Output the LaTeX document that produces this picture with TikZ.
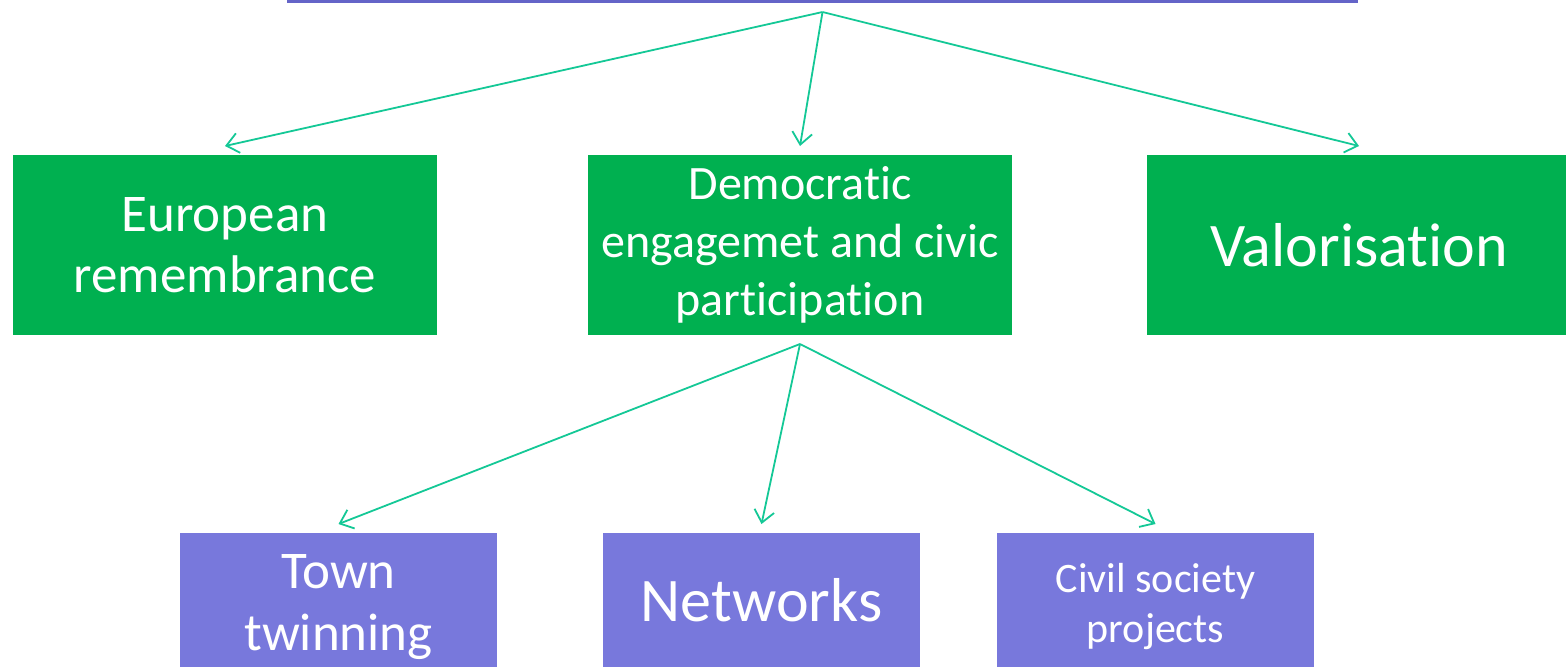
\documentclass[tikz,border=0pt]{standalone}
\usepackage{fontspec}
\setmainfont{Carlito}[Ligatures=NoCommon]
\usetikzlibrary{arrows.meta}
\definecolor{boxgreen}{RGB}{0,176,80}
\definecolor{boxpurple}{RGB}{120,120,220}
\definecolor{toppurple}{RGB}{100,100,200}
\definecolor{linkteal}{RGB}{20,200,150}

\begin{document}
\begin{tikzpicture}[x=0.5pt,y=-0.5pt,
    box/.style={rectangle,inner sep=0pt,outer sep=4.5pt,text=white,align=center},
    greenbox/.style={box,fill=boxgreen,minimum width=212pt,minimum height=90pt},
    purplebox/.style={box,fill=boxpurple,minimum width=158.5pt},
    link/.style={draw=linkteal,line width=0.9pt,-{Straight Barb[length=6pt,width=10pt]}}]
    \useasboundingbox (0,0) rectangle (1566,666);
    \clip (0,0) rectangle (1566,666);
    \node[box,fill=toppurple,minimum width=535.5pt,minimum height=33pt] (prog) at (822.5,-30) {};
    % second row
    \node[greenbox,font=\fontsize{26.5}{30.5}\selectfont] (eur) at (225,245) {European\\remembrance};
    \node[greenbox,font=\fontsize{24}{29}\selectfont] (dem) at (800,245) {Democratic\\engagemet and civic\\participation};
    \node[greenbox,font=\fontsize{31}{36}\selectfont] (val) at (1359,245) {Valorisation};
    % third row
    \node[purplebox,minimum height=74pt,font=\fontsize{26.5}{31}\selectfont] (town) at (338.5,607) {Town\\twinning};
    \node[purplebox,minimum height=67pt,font=\fontsize{31}{36}\selectfont] (net) at (761.5,600) {Networks};
    \node[purplebox,minimum height=73pt,font=\fontsize{21}{25}\selectfont] (civ) at (1155.5,606) {Civil society\\projects};
    \foreach \a/\b in {prog/eur,prog/dem,prog/val,dem/town,dem/net,dem/civ}{
      \draw[link] (\a.south) -- (\b.north);
    }
\end{tikzpicture}
\end{document}
